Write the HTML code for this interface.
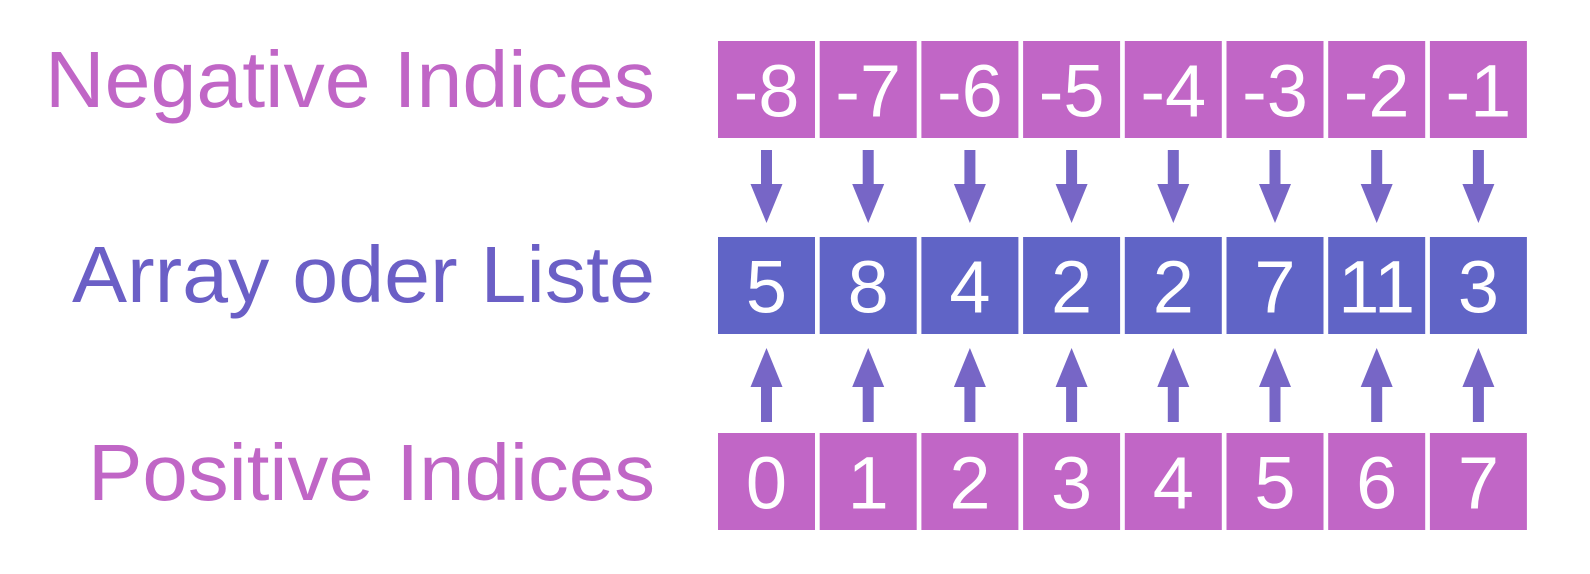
<!DOCTYPE html>
<html><head><meta charset="utf-8"><style>
html,body{margin:0;padding:0;background:#fff;}
svg{display:block;}
</style></head><body>
<svg id="chart" width="1590" height="574" xmlns="http://www.w3.org/2000/svg" font-family="Liberation Sans, sans-serif">
<rect width="1590" height="574" fill="#ffffff"/>
<text x="655" y="107" text-anchor="end" font-size="80" fill="#C066C6" textLength="610" lengthAdjust="spacingAndGlyphs">Negative Indices</text>
<text x="655" y="302" text-anchor="end" font-size="80" fill="#6B5FC6" textLength="583" lengthAdjust="spacingAndGlyphs">Array oder Liste</text>
<text x="655" y="500" text-anchor="end" font-size="80" fill="#C066C6" textLength="567" lengthAdjust="spacingAndGlyphs">Positive Indices</text>
<g id="cells"></g>
</svg>
<script>
const negativeIndices = ["-8","-7","-6","-5","-4","-3","-2","-1"];
const arrayValues = ["5","8","4","2","2","7","11","3"];
const positiveIndices = ["0","1","2","3","4","5","6","7"];

const NS = "http://www.w3.org/2000/svg";
const g = document.getElementById('cells');
const x0 = 718, step = 101.7, bw = 97, bh = 97;
function mk(tag, attrs){const e=document.createElementNS(NS,tag);for(const k in attrs)e.setAttribute(k,attrs[k]);g.appendChild(e);return e;}
function row(vals, top, color, name){
  vals.forEach((v,i)=>{
    const x = x0 + i*step;
    const r = mk('rect',{x:x,y:top,width:bw,height:bh,fill:color});
    
    
    const t = mk('text',{x:x+bw/2,y:top+bh/2+27,'text-anchor':'middle','font-size':74,fill:'#ffffff'});
    t.textContent = v;
    
    
  });
}
row(negativeIndices, 41, '#C166C6', 'negative-index');
row(arrayValues, 237, '#6064C6', 'array');
row(positiveIndices, 433, '#C166C6', 'positive-index');
for(let i=0;i<8;i++){
  const cx = x0 + i*step + bw/2;
  const d = mk('path',{d:`M${cx-5.5} 150 H${cx+5.5} V184 L${cx+16} 184 L${cx} 223 L${cx-16} 184 L${cx-5.5} 184 Z`,fill:'#7766C6'});
  
  
  const u = mk('path',{d:`M${cx-5.5} 422 H${cx+5.5} V387 L${cx+16} 387 L${cx} 348 L${cx-16} 387 L${cx-5.5} 387 Z`,fill:'#7766C6'});
  
  
}
</script>
</body></html>
